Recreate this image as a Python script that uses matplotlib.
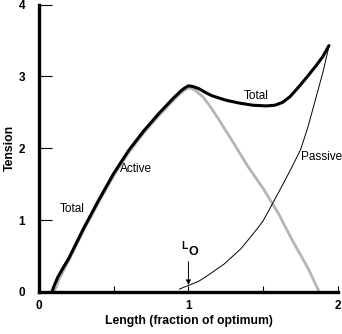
import matplotlib
matplotlib.use('Agg')
import matplotlib.pyplot as plt

plt.rcParams['font.family'] = ['Liberation Sans', 'DejaVu Sans']

# length (fraction of optimum) and tension values
active_x = [0.10, 0.12, 0.14, 0.17, 0.20, 0.30, 0.40, 0.50, 0.60, 0.70, 0.80, 0.90, 0.95, 0.975,
            1.00, 1.025, 1.05, 1.10, 1.15, 1.20, 1.30, 1.40, 1.50, 1.60, 1.70, 1.80, 1.875]
active_y = [0.00, 0.10, 0.20, 0.32, 0.44, 0.86, 1.25, 1.62, 1.94, 2.21, 2.45, 2.67, 2.77, 2.81,
            2.84, 2.83, 2.80, 2.71, 2.57, 2.41, 2.08, 1.74, 1.44, 1.10, 0.70, 0.33, 0.00]

total_x = [0.087, 0.10, 0.127, 0.16, 0.20, 0.30, 0.40, 0.50, 0.60, 0.70, 0.80, 0.90, 0.95, 0.975,
           1.00, 1.03, 1.07, 1.12, 1.16, 1.25, 1.34, 1.43, 1.52, 1.58, 1.63, 1.68, 1.74, 1.80,
           1.85, 1.90, 1.94]
total_y = [0.00, 0.08, 0.21, 0.33, 0.47, 0.89, 1.28, 1.65, 1.97, 2.24, 2.48, 2.70, 2.80, 2.84,
           2.87, 2.86, 2.83, 2.77, 2.73, 2.67, 2.63, 2.60, 2.59, 2.60, 2.64, 2.72, 2.86, 3.01,
           3.14, 3.28, 3.43]

passive_x = [0.94, 1.00, 1.07, 1.13, 1.24, 1.35, 1.41, 1.46, 1.50, 1.56, 1.63, 1.70, 1.75,
             1.80, 1.85, 1.90, 1.94]
passive_y = [0.04, 0.09, 0.15, 0.23, 0.39, 0.60, 0.75, 0.88, 0.99, 1.22, 1.49, 1.77, 1.98,
             2.30, 2.68, 3.06, 3.42]

fig = plt.figure(figsize=(3.42, 3.34), dpi=100)
ax = fig.add_axes([0.114, 0.126, 0.874, 0.860])

ax.plot(active_x, active_y, color='#b5b5b5', lw=2.0, solid_capstyle='round',
        solid_joinstyle='round', zorder=2)
ax.plot(total_x, total_y, color='black', lw=2.2, solid_capstyle='round',
        solid_joinstyle='round', zorder=3)
ax.plot(passive_x, passive_y, color='black', lw=0.7, zorder=3)

ax.set_xlim(0, 2)
ax.set_ylim(0, 4)
for s in ['top', 'right']:
    ax.spines[s].set_visible(False)
for s in ['left', 'bottom']:
    ax.spines[s].set_linewidth(2.4)

ax.set_xticks([0, 0.5, 1, 1.5, 2])
ax.set_xticklabels(['0', '', '1', '', '2'])
ax.set_yticks([0, 1, 2, 3, 4])
ax.tick_params(axis='x', direction='in', length=4, width=0.8, pad=6, labelsize=8.5)
ax.tick_params(axis='y', direction='in', length=9, width=0.8, pad=10, labelsize=8.5)
for lab in ax.get_xticklabels() + ax.get_yticklabels():
    lab.set_fontweight('bold')

ax.set_xlabel('Length (fraction of optimum)', fontsize=8.8, fontweight='bold', labelpad=2)
ax.set_ylabel('Tension', fontsize=8.8, fontweight='bold', labelpad=2)

ax.text(0.14, 1.15, 'Total', fontsize=8.5, ha='left', va='center')
ax.text(0.545, 1.71, 'Active', fontsize=8.5, ha='left', va='center')
ax.text(1.37, 2.73, 'Total', fontsize=8.5, ha='left', va='center')
ax.text(1.755, 1.88, 'Passive', fontsize=8.5, ha='left', va='center')
ax.text(0.955, 0.64, 'L', fontsize=7.5, fontweight='bold', ha='left', va='center')
ax.text(1.0, 0.55, 'O', fontsize=9, fontweight='bold', ha='left', va='center')
ax.annotate('', xy=(1.0, 0.06), xytext=(1.0, 0.46),
            arrowprops=dict(arrowstyle='-|>', color='black', lw=0.7, mutation_scale=7))

fig.savefig('out.png', dpi=100)
